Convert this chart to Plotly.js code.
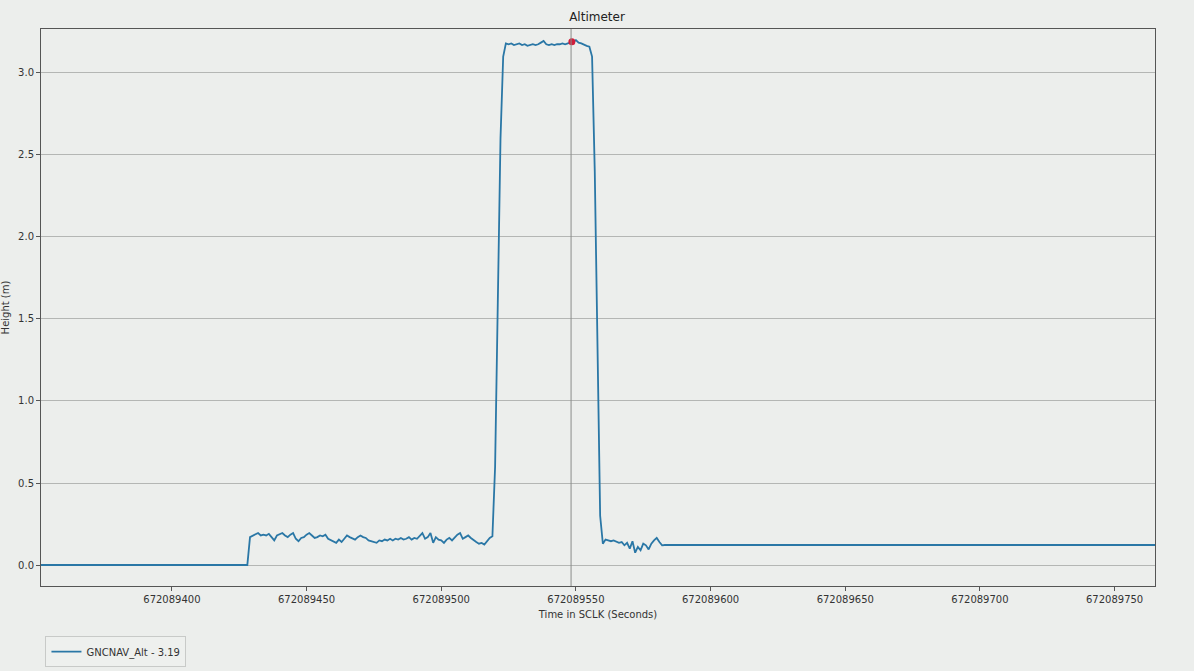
<!DOCTYPE html>
<html>
<head>
<meta charset="utf-8">
<script src="https://cdn.plot.ly/plotly-3.0.1.min.js"></script>
<style>
  html, body { margin: 0; padding: 0; background: #eceeec; }
  #plot { width: 1194px; height: 671px; }
</style>
</head>
<body>
<div id="plot"></div>
<script>
// SCLK base, the times below are offsets from it (seconds)
var sclkBase = 672089000;

// altimeter samples
var altTimes = [351, 428,
  429, 430, 431, 432, 433, 434, 435, 436, 437, 438, 439, 440, 441, 442, 443, 444, 445, 446, 447, 448,
  449, 450, 451, 452, 453, 454, 455, 456, 457, 458, 459, 460, 461, 462, 463, 464, 465, 466, 467, 468,
  469, 470, 471, 472, 473, 474, 475, 476, 477, 478, 479, 480, 481, 482, 483, 484, 485, 486, 487, 488,
  489, 490, 491, 492, 493, 494, 495, 496, 497, 498, 499, 500, 501, 502, 503, 504, 505, 506, 507, 508,
  509, 510, 511, 512, 513, 514, 515, 516, 517, 518, 519, 520, 521, 522, 523,
  524, 525, 526, 527, 528, 529, 530, 531, 532, 533, 534, 535, 536, 537, 538, 539, 540, 541, 542, 543,
  544, 545, 546, 547, 548, 549, 550, 551, 552, 553, 554, 555, 556, 557, 558, 559,
  560, 561, 562, 563, 564, 565, 566, 567, 568, 569, 570, 571, 572, 573, 574, 575, 576, 577, 578, 579,
  580, 581, 582, 583, 766];

var altHeights = [0.0, 0.0,
  0.17, 0.18, 0.19, 0.195, 0.18, 0.185, 0.18, 0.19, 0.17, 0.15, 0.18, 0.19, 0.195, 0.18, 0.17, 0.185, 0.195, 0.16, 0.145, 0.165,
  0.17, 0.185, 0.195, 0.18, 0.165, 0.17, 0.18, 0.175, 0.185, 0.16, 0.15, 0.14, 0.135, 0.155, 0.14, 0.16, 0.18, 0.17, 0.16, 0.155,
  0.17, 0.18, 0.17, 0.165, 0.15, 0.145, 0.14, 0.135, 0.15, 0.145, 0.155, 0.15, 0.16, 0.15, 0.16, 0.155, 0.165, 0.155, 0.16, 0.17,
  0.155, 0.165, 0.16, 0.175, 0.195, 0.16, 0.17, 0.195, 0.135, 0.17, 0.155, 0.15, 0.135, 0.155, 0.165, 0.15, 0.17, 0.185, 0.195, 0.16,
  0.17, 0.18, 0.165, 0.15, 0.14, 0.13, 0.135, 0.125, 0.145, 0.165, 0.175, 0.6, 1.6, 2.6, 3.1,
  3.18, 3.175, 3.18, 3.17, 3.175, 3.18, 3.17, 3.175, 3.165, 3.17, 3.175, 3.17, 3.175, 3.185, 3.195, 3.175, 3.17, 3.175, 3.17, 3.175,
  3.175, 3.18, 3.175, 3.18, 3.185, 3.19, 3.2, 3.185, 3.18, 3.17, 3.165, 3.16, 3.1, 2.4, 1.2, 0.3,
  0.13, 0.155, 0.15, 0.145, 0.15, 0.14, 0.135, 0.14, 0.12, 0.135, 0.1, 0.145, 0.075, 0.11, 0.09, 0.13, 0.12, 0.095, 0.13, 0.15,
  0.165, 0.14, 0.12, 0.122, 0.122];

// selected point (cursor)
var cursorTime = [548.5];
var cursorHeight = [3.19];

var xTicks = [400, 450, 500, 550, 600, 650, 700, 750];
var yTicks = [0.0, 0.5, 1.0, 1.5, 2.0, 2.5, 3.0];

var toSclk = function (t) { return sclkBase + t; };

var trace = {
  x: altTimes.map(toSclk),
  y: altHeights,
  type: "scatter",
  mode: "lines",
  name: "GNCNAV_Alt - " + cursorHeight[0].toFixed(2),
  line: { color: "#2a77a6", width: 1.8 }
};

var dot = {
  x: cursorTime.map(toSclk),
  y: cursorHeight,
  type: "scatter",
  mode: "markers",
  showlegend: false,
  marker: { color: "#d01f3c", size: 7 }
};

var axisStyle = {
  showline: true,
  mirror: true,
  linecolor: "#555555",
  linewidth: 1,
  ticks: "outside",
  ticklen: 4,
  tickcolor: "#555555",
  zeroline: false,
  automargin: false,
  tickfont: { family: "DejaVu Sans", size: 10, color: "#333333" }
};

var layout = {
  width: 1194,
  height: 671,
  paper_bgcolor: "#eceeec",
  plot_bgcolor: "#eceeec",
  font: { family: "DejaVu Sans", size: 10, color: "#333333" },
  margin: { l: 41, r: 39, t: 29, b: 85, autoexpand: false },
  title: { text: "Altimeter", x: 0.5, xanchor: "center", y: 0.975, yanchor: "middle",
           font: { family: "DejaVu Sans", size: 12, color: "#222222" } },
  xaxis: Object.assign({}, axisStyle, {
    range: [sclkBase + 351.4, sclkBase + 765],
    tickvals: xTicks.map(toSclk),
    ticktext: xTicks.map(function (t) { return String(toSclk(t)); }),
    showgrid: false,
    title: { text: "Time in SCLK (Seconds)", standoff: 6,
             font: { family: "DejaVu Sans", size: 10, color: "#333333" } }
  }),
  yaxis: Object.assign({}, axisStyle, {
    range: [-0.128, 3.268],
    tickvals: yTicks,
    ticktext: yTicks.map(function (v) { return v.toFixed(1); }),
    showgrid: true,
    gridcolor: "#b4b6b4",
    gridwidth: 1,
    title: { text: "Height (m)", standoff: 8,
             font: { family: "DejaVu Sans", size: 10, color: "#333333" } }
  }),
  shapes: [{
    type: "line", xref: "x", yref: "paper",
    x0: toSclk(cursorTime[0]) - 0.3, x1: toSclk(cursorTime[0]) - 0.3, y0: 0, y1: 1,
    line: { color: "#8a8c8a", width: 1 }
  }],
  showlegend: true,
  legend: {
    x: 0.004, y: -0.09, xanchor: "left", yanchor: "top",
    bgcolor: "#eef0ee", bordercolor: "#c8cac8", borderwidth: 1,
    font: { family: "DejaVu Sans", size: 10, color: "#333333" }
  }
};

Plotly.newPlot("plot", [trace, dot], layout, { displayModeBar: false, staticPlot: true });
</script>
</body>
</html>
